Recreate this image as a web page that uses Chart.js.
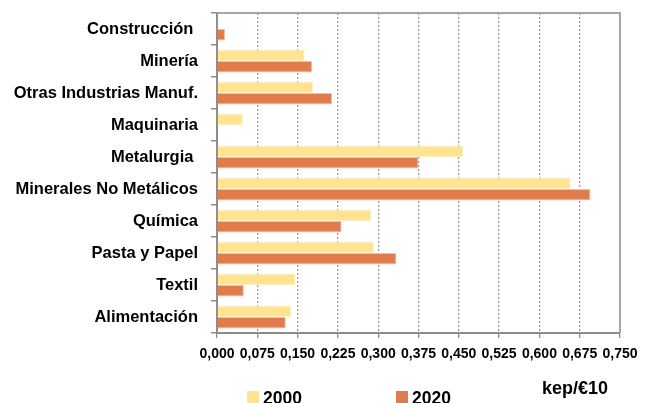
<!DOCTYPE html>
<html>
<head>
<meta charset="utf-8">
<script src="https://cdn.jsdelivr.net/npm/chart.js@4/dist/chart.umd.min.js"></script>
<style>
  html, body { margin: 0; padding: 0; background: #fff; }
  #wrap { width: 654px; height: 403px; position: relative; }
</style>
</head>
<body>
<div id="wrap"><canvas id="chart"></canvas></div>
<script>
// sectores (de arriba a abajo)
const sectores = ['Construcción ', 'Minería', 'Otras Industrias Manuf.', 'Maquinaria', 'Metalurgia ',
  'Minerales No Metálicos', 'Química', 'Pasta y Papel', 'Textil', 'Alimentación'];

// intensidad energética, kep/€10
const valores2000 = [0.003, 0.163, 0.179, 0.048, 0.458, 0.658, 0.287, 0.292, 0.146, 0.138];
const valores2020 = [0.015, 0.177, 0.214, 0, 0.375, 0.695, 0.232, 0.334, 0.050, 0.128];

const anios = ['2000', '2020'];
const unidad = 'kep/€10';

const FONT = '"Liberation Sans", Arial, sans-serif';

// marco superior/derecho, leyenda y unidad
const extras = {
  id: 'extras',
  afterDraw(chart) {
    const ctx = chart.ctx;
    const a = chart.chartArea;
    ctx.save();
    ctx.strokeStyle = '#a6a6a6';
    ctx.lineWidth = 2;
    ctx.beginPath();
    ctx.moveTo(a.left, a.top);
    ctx.lineTo(a.right, a.top);
    ctx.lineTo(a.right, a.bottom);
    ctx.stroke();

    ctx.font = 'bold 17.5px ' + FONT;
    ctx.textBaseline = 'middle';
    const pos = [247, 396];
    chart.data.datasets.forEach((ds, i) => {
      ctx.fillStyle = ds.backgroundColor;
      ctx.fillRect(pos[i], 391, 12, 12);
      ctx.fillStyle = '#000';
      ctx.fillText(ds.label, pos[i] + 16, 399);
    });
    ctx.font = 'bold 18px ' + FONT;
    ctx.fillText(unidad, 542, 389);
    ctx.restore();
  }
};

new Chart(document.getElementById('chart'), {
  type: 'bar',
  data: {
    labels: sectores,
    datasets: [
      {
        label: anios[0],
        data: valores2000,
        backgroundColor: '#ffe38f',
        borderColor: '#fff1c8',
        borderWidth: 1,
      },
      {
        label: anios[1],
        data: valores2020,
        backgroundColor: '#e07b4e',
        borderColor: '#f2c0a4',
        borderWidth: 1,
      },
    ],
  },
  options: {
    indexAxis: 'y',
    responsive: true,
    maintainAspectRatio: false,
    animation: false,
    layout: { padding: { top: 13, right: 34, left: 0, bottom: 0 } },
    datasets: {
      bar: { categoryPercentage: 0.72, barPercentage: 1 },
    },
    plugins: {
      legend: { display: false },
      tooltip: { enabled: false },
    },
    scales: {
      x: {
        min: 0,
        max: 0.75,
        afterFit(scale) { scale.height = 70; },
        ticks: {
          stepSize: 0.075,
          padding: 8,
          maxRotation: 0,
          minRotation: 0,
          autoSkip: false,
          color: '#000',
          font: { family: FONT, size: 14, weight: 'bold' },
          callback: (v) => v.toFixed(3).replace('.', ','),
        },
        grid: {
          color: '#9a9a9a',
          lineWidth: 1.3,
          tickLength: 5,
          tickColor: '#8c8c8c',
        },
        border: { color: '#8c8c8c', width: 2, dash: [2, 2] },
      },
      y: {
        afterFit(scale) {
          scale.width = 217;
          scale.paddingTop = 0;
          scale.paddingBottom = 0;
        },
        ticks: {
          padding: 13,
          color: '#000',
          font: { family: FONT, size: 16.5, weight: 'bold' },
        },
        grid: {
          offset: true,
          drawOnChartArea: false,
          tickLength: 6,
          tickColor: '#8c8c8c',
          lineWidth: 1.5,
        },
        border: { color: '#8c8c8c', width: 2 },
      },
    },
  },
  plugins: [extras],
});
</script>
</body>
</html>
